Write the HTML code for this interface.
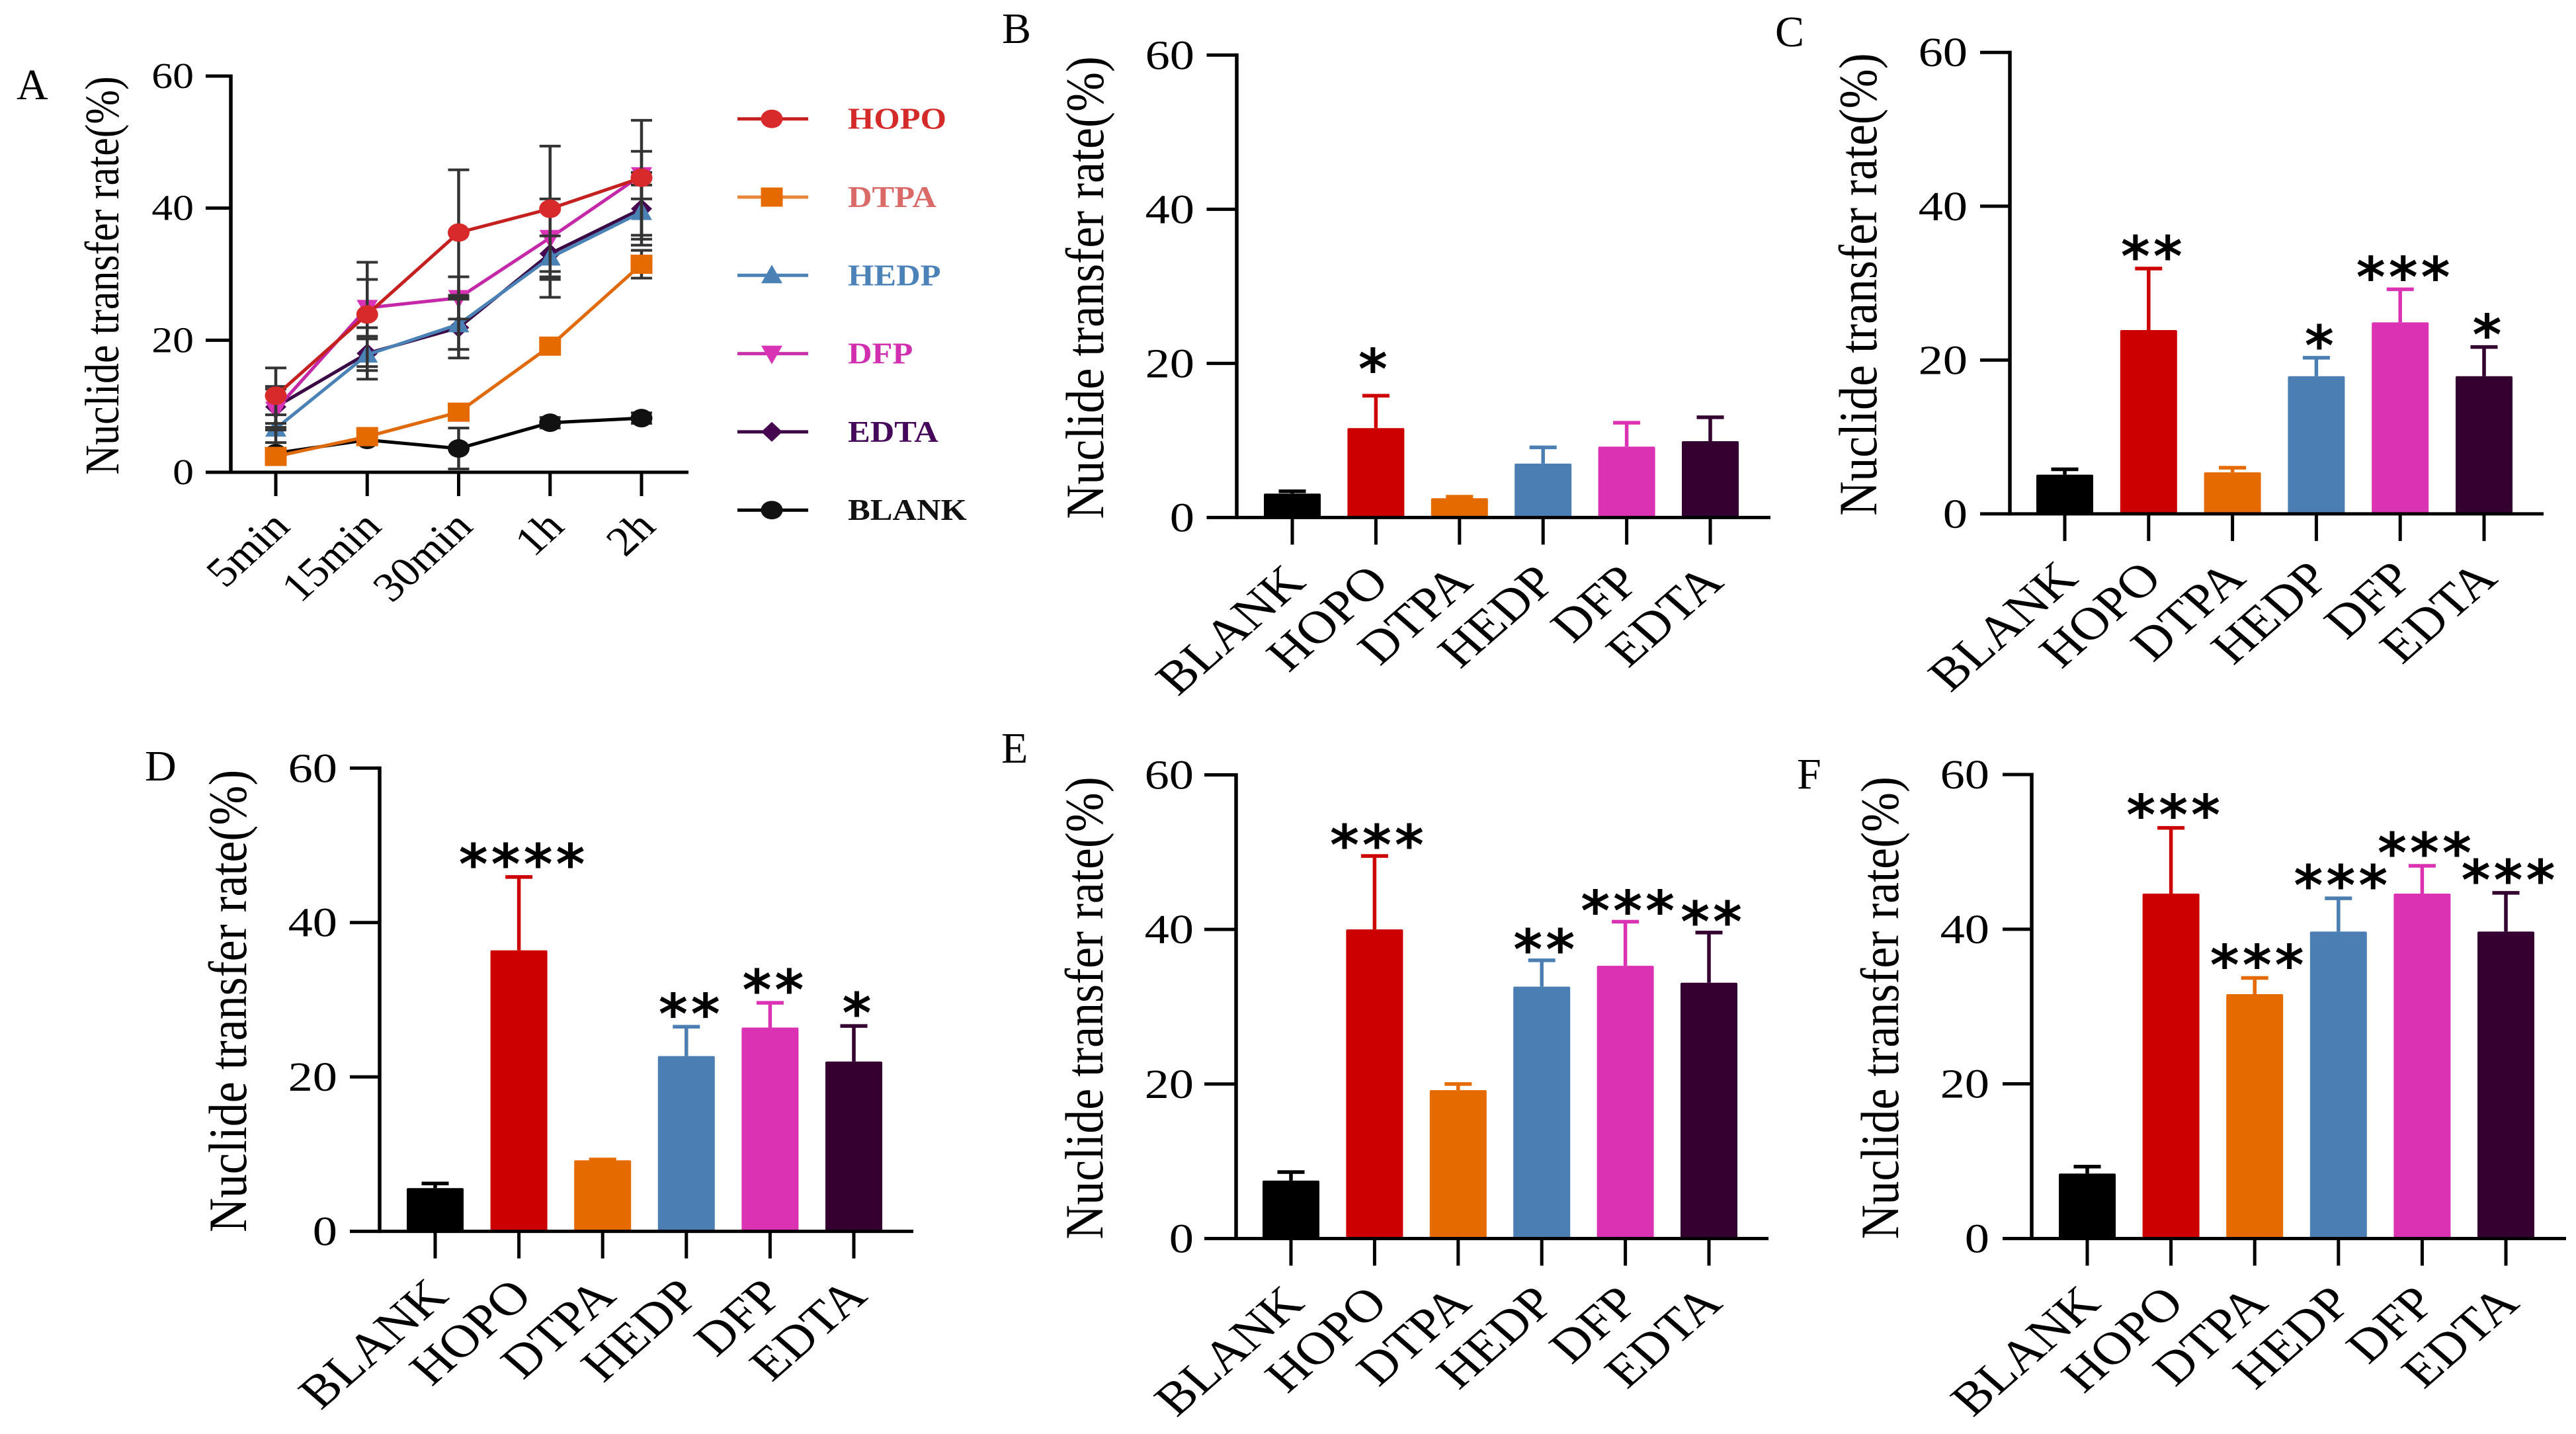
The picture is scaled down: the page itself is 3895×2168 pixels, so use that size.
<!DOCTYPE html>
<html lang="en">
<head>
<meta charset="utf-8">
<title>Nuclide transfer rate panels</title>
<style>
html,body{margin:0;padding:0;background:#fff;width:3895px;height:2168px;overflow:hidden}
svg{display:block}
text{font-family:"Liberation Serif","Times New Roman",serif;fill:#000}
</style>
</head>
<body>
<svg id="figure" xmlns="http://www.w3.org/2000/svg" width="3895" height="2168" viewBox="0 0 3895 2168"></svg>
<script>
// ---------- shared labels ----------
const yTickValues = [0, 20, 40, 60];
const barCategories = ["BLANK", "HOPO", "DTPA", "HEDP", "DFP", "EDTA"];
const timeCategories = ["5min", "15min", "30min", "1h", "2h"];
const yAxisTitle = "Nuclide transfer rate(%)";

// ---------- panel A: line series (mean and symmetric error) ----------
const blankMeans = [2.9, 4.9, 3.6, 7.5, 8.2];
const blankErrors = [0.3, 0.4, 3.1, 0.8, 0.8];
const hopoMeans = [11.6, 23.9, 36.3, 39.9, 44.6];
const hopoErrors = [4.2, 7.9, 9.5, 9.5, 8.7];
const dtpaMeans = [2.4, 5.4, 9.1, 19.1, 31.5];
const dtpaErrors = [0.2, 0.5, 0.1, 0.8, 2.1];
const hedpMeans = [6.6, 17.8, 22.4, 32.5, 39.4];
const hedpErrors = [2.1, 2.4, 3.8, 3.3, 4.1];
const dfpMeans = [9.5, 24.9, 26.4, 35.5, 45.0];
const dfpErrors = [3.1, 4.3, 3.2, 5.9, 3.6];
const edtaMeans = [9.9, 18.0, 21.9, 33.1, 39.9];
const edtaErrors = [3.1, 3.9, 4.6, 6.6, 5.5];

// ---------- panels B-F: bars (value, upper error end, significance) ----------
const panelBValues = [3.1, 11.6, 2.5, 7.0, 9.2, 9.9];
const panelBErrorTops = [3.4, 15.8, 2.7, 9.1, 12.3, 13.0];
const panelBStars = ["", "*", "", "", "", ""];
const panelCValues = [5.1, 23.9, 5.4, 17.9, 24.9, 17.9];
const panelCErrorTops = [5.8, 31.9, 6.0, 20.3, 29.2, 21.7];
const panelCStars = ["", "**", "", "*", "***", "*"];
const panelDValues = [5.6, 36.4, 9.2, 22.7, 26.4, 22.0];
const panelDErrorTops = [6.2, 45.9, 9.3, 26.5, 29.6, 26.6];
const panelDStars = ["", "****", "", "**", "**", "*"];
const panelEValues = [7.5, 40.0, 19.2, 32.6, 35.3, 33.1];
const panelEErrorTops = [8.6, 49.5, 20.0, 36.0, 41.0, 39.6];
const panelEStars = ["", "***", "", "**", "***", "**"];
const panelFValues = [8.4, 44.6, 31.6, 39.7, 44.6, 39.7];
const panelFErrorTops = [9.3, 53.1, 33.7, 44.0, 48.2, 44.7];
const panelFStars = ["", "***", "***", "***", "***", "***"];

const NS = "http://www.w3.org/2000/svg";
const svg = document.getElementById("figure");

function make(tag, attrs, parent) {
  const node = document.createElementNS(NS, tag);
  for (const key in attrs) node.setAttribute(key, attrs[key]);
  (parent || svg).appendChild(node);
  return node;
}

function drawFrame(g, cfg, yScale) {
  const axisY = make("line", {x1: cfg.axisX, x2: cfg.axisX, y1: yScale(60) - 2.5, y2: yScale(0) + 2.5, stroke: "#000", "stroke-width": 5.5}, g);
  
  
  const axisXLine = make("line", {x1: cfg.axisLeft, x2: cfg.axisRight, y1: yScale(0), y2: yScale(0), stroke: "#000", "stroke-width": 5}, g);
  
  

  yTickValues.forEach(function (v) {
    if (v !== 0) {
      const tick = make("line", {x1: cfg.axisLeft, x2: cfg.axisX, y1: yScale(v), y2: yScale(v), stroke: "#000", "stroke-width": 5}, g);
      
      
    }
    const label = make("text", {
      transform: "translate(" + (cfg.axisX - cfg.tickLabelGap) + "," + (yScale(v) + cfg.tickBase) + ") scale(" + cfg.tickScale + ",1)",
      "text-anchor": "end", "font-size": cfg.tickFont
    }, g);
    label.textContent = String(v);
    
    
  });

  const title = make("text", {
    transform: "translate(" + (cfg.axisX - cfg.titleGap) + "," + ((yScale(60) + yScale(0)) / 2 + 2) + ") scale(" + cfg.titleScale + ",1) rotate(-90)",
    "text-anchor": "middle", "font-size": cfg.titleFont
  }, g);
  title.textContent = yAxisTitle;
  
  

  const letter = make("text", {x: cfg.letterX, y: cfg.letterY, "font-size": 66}, g);
  letter.textContent = cfg.letter;
  
  
}

function drawCategoryAxis(g, cfg, yScale, categories, xScale) {
  categories.forEach(function (name, i) {
    const tick = make("line", {x1: xScale(i), x2: xScale(i), y1: yScale(0), y2: yScale(0) + cfg.xTickLen, stroke: "#000", "stroke-width": 5}, g);
    
    
    const label = make("text", {
      transform: "translate(" + (xScale(i) + cfg.labelDx) + "," + (yScale(0) + cfg.labelDy) + ") scale(" + cfg.labelScale + ",1) rotate(-45)",
      "text-anchor": "end", "font-size": cfg.labelFont
    }, g);
    label.textContent = name;
    
    
  });
}

// ---------- bar panels ----------
const barColors = ["#000000", "#cc0000", "#e56a00", "#4b7fb3", "#da32b3", "#330030"];
const barCommon = {tickFont: 62, tickScale: 1.2, tickBase: 21, tickLabelGap: 64, titleFont: 72, titleScale: 1.14, titleGap: 202, xTickLen: 41, labelFont: 70, labelScale: 1.15, labelDx: 23, labelDy: 101};

function drawBarPanel(cfg, values, errorTops, stars) {
  const g = make("g", {});
  
  
  const settings = Object.assign({}, barCommon, cfg);
  const yScale = function (v) { return cfg.y0 + (cfg.y60 - cfg.y0) * v / 60; };
  const xScale = function (i) { return cfg.firstX + cfg.stepX * i; };
  const barWidth = 86;
  const capWidth = 41;

  values.forEach(function (v, i) {
    const color = barColors[i];
    const stem = make("line", {x1: xScale(i), x2: xScale(i), y1: yScale(errorTops[i]), y2: yScale(v), stroke: color, "stroke-width": 5.5}, g);
    
    
    const cap = make("line", {x1: xScale(i) - capWidth / 2, x2: xScale(i) + capWidth / 2, y1: yScale(errorTops[i]), y2: yScale(errorTops[i]), stroke: color, "stroke-width": 5.5}, g);
    
    
    const bar = make("rect", {x: xScale(i) - barWidth / 2, y: yScale(v), width: barWidth, height: yScale(0) - yScale(v), rx: 2, fill: color}, g);
    
    
    if (stars[i]) {
      const star = make("text", {
        x: xScale(i) + cfg.starDx + 2, y: yScale(errorTops[i]) - cfg.starGap + 40,
        "text-anchor": "middle", "font-size": 84, "letter-spacing": 5, "font-weight": "bold",
        style: 'font-family:"DejaVu Sans",sans-serif'
      }, g);
      star.textContent = stars[i];
      
      
    }
  });

  drawFrame(g, settings, yScale);
  drawCategoryAxis(g, settings, yScale, barCategories, xScale);
}

drawBarPanel({letter: "B", letterX: 1515, letterY: 65, axisX: 1870, axisLeft: 1824.5, axisRight: 2677, y60: 83.3, y0: 782.4, firstX: 1954, stepX: 126.4, starDx: -4, starGap: 51}, panelBValues, panelBErrorTops, panelBStars);
drawBarPanel({letter: "C", letterX: 2684, letterY: 70, axisX: 3039, axisLeft: 2994, axisRight: 3846, y60: 79.2, y0: 776.9, firstX: 3122, stepX: 126.8, starDx: 5, starGap: 29}, panelCValues, panelCErrorTops, panelCStars);
drawBarPanel({letter: "D", letterX: 219, letterY: 1180, axisX: 574, axisLeft: 529, axisRight: 1381, y60: 1161.3, y0: 1861.6, firstX: 658, stepX: 126.6, starDx: 5, starGap: 30}, panelDValues, panelDErrorTops, panelDStars);
drawBarPanel({letter: "E", letterX: 1514, letterY: 1153, axisX: 1869, axisLeft: 1821, axisRight: 2674, y60: 1171.5, y0: 1872.5, firstX: 1952, stepX: 126.4, starDx: 4, starGap: 27}, panelEValues, panelEErrorTops, panelEStars);
drawBarPanel({letter: "F", letterX: 2717, letterY: 1192, axisX: 3072, axisLeft: 3028, axisRight: 3880, y60: 1171, y0: 1872.5, firstX: 3156, stepX: 126.6, starDx: 4, starGap: 30}, panelFValues, panelFErrorTops, panelFStars);

// ---------- panel A ----------
const lineCfg = {letter: "A", letterX: 25, letterY: 150, axisX: 349, axisLeft: 311, axisRight: 1041, y60: 115, y0: 714,
  tickFont: 55, tickScale: 1.16, tickBase: 18, tickLabelGap: 56, titleFont: 62, titleScale: 1.18, titleGap: 170, xTickLen: 36, labelFont: 63, labelScale: 1.1, labelDx: 24, labelDy: 85};
const lineX = function (i) { return 417 + 138.25 * i; };
const lineY = function (v) { return lineCfg.y0 + (lineCfg.y60 - lineCfg.y0) * v / 60; };

function drawMarker(parent, shape, cx, cy, color) {
  let node;
  if (shape === "circle") node = make("ellipse", {cx: cx, cy: cy, rx: 16.5, ry: 14, fill: color}, parent);
  if (shape === "square") node = make("rect", {x: cx - 16.5, y: cy - 14.5, width: 33, height: 29, fill: color}, parent);
  if (shape === "up") node = make("polygon", {points: (cx - 16) + "," + (cy + 12) + " " + (cx + 16) + "," + (cy + 12) + " " + cx + "," + (cy - 16), fill: color}, parent);
  if (shape === "down") node = make("polygon", {points: (cx - 16) + "," + (cy - 12) + " " + (cx + 16) + "," + (cy - 12) + " " + cx + "," + (cy + 16), fill: color}, parent);
  if (shape === "diamond") node = make("polygon", {points: (cx - 16) + "," + cy + " " + cx + "," + (cy - 15) + " " + (cx + 16) + "," + cy + " " + cx + "," + (cy + 15), fill: color}, parent);
  
  
}

function drawSeries(parent, name, means, shape, lineColor, markerColor) {
  const g = make("g", {}, parent);
  
  
  const points = means.map(function (v, i) { return lineX(i) + "," + lineY(v); }).join(" ");
  const line = make("polyline", {points: points, fill: "none", stroke: lineColor, "stroke-width": 5}, g);
  
  
  means.forEach(function (v, i) { drawMarker(g, shape, lineX(i), lineY(v), markerColor); });
}

function drawErrors(parent, name, means, errors) {
  const g = make("g", {}, parent);
  
  
  means.forEach(function (v, i) {
    const x = lineX(i);
    const hi = lineY(v + errors[i]);
    const lo = lineY(v - errors[i]);
    const stem = make("line", {x1: x, x2: x, y1: hi, y2: lo, stroke: "#333", "stroke-width": 4.5}, g);
    
    
    const capHi = make("line", {x1: x - 16, x2: x + 16, y1: hi, y2: hi, stroke: "#333", "stroke-width": 4}, g);
    
    
    const capLo = make("line", {x1: x - 16, x2: x + 16, y1: lo, y2: lo, stroke: "#333", "stroke-width": 4}, g);
    
    
  });
}

const panelA = make("g", {});


drawErrors(panelA, "blank", blankMeans, blankErrors);
drawSeries(panelA, "blank", blankMeans, "circle", "#000", "#111");
drawSeries(panelA, "edta", edtaMeans, "diamond", "#3a0845", "#45064f");
drawSeries(panelA, "dfp", dfpMeans, "down", "#c427a8", "#d833b4");
drawSeries(panelA, "hedp", hedpMeans, "up", "#4b82b6", "#4b82b6");
drawErrors(panelA, "edta", edtaMeans, edtaErrors);
drawErrors(panelA, "dfp", dfpMeans, dfpErrors);
drawErrors(panelA, "hedp", hedpMeans, hedpErrors);
drawErrors(panelA, "dtpa", dtpaMeans, dtpaErrors);
drawErrors(panelA, "hopo", hopoMeans, hopoErrors);
drawSeries(panelA, "dtpa", dtpaMeans, "square", "#e06a0a", "#e56a00");
drawSeries(panelA, "hopo", hopoMeans, "circle", "#c4201f", "#d82a2a");
drawFrame(panelA, lineCfg, lineY);
drawCategoryAxis(panelA, lineCfg, lineY, timeCategories, lineX);

// ---------- legend ----------
const legendNames = ["HOPO", "DTPA", "HEDP", "DFP", "EDTA", "BLANK"];
const legendShapes = ["circle", "square", "up", "down", "diamond", "circle"];
const legendMarkerColors = ["#d82a2a", "#e56a00", "#4b82b6", "#d833b4", "#45064f", "#111"];
const legendLineColors = ["#c4201f", "#e8873a", "#4b82b6", "#c932ac", "#3a0845", "#000"];
const legendTextColors = ["#d42a2a", "#d96a68", "#4b82b8", "#d030b0", "#46085a", "#111"];
const legendG = make("g", {});


legendNames.forEach(function (name, i) {
  const rowY = 179.7 + 118.3 * i;
  const entry = make("g", {}, legendG);
  
  
  const sample = make("line", {x1: 1115, x2: 1222, y1: rowY, y2: rowY, stroke: legendLineColors[i], "stroke-width": 5}, entry);
  
  
  drawMarker(entry, legendShapes[i], 1167, rowY, legendMarkerColors[i]);
  const label = make("text", {
    transform: "translate(1282," + (rowY + 15) + ") scale(1.1,1)",
    "font-size": 46, "font-weight": "bold", style: "fill:" + legendTextColors[i]
  }, entry);
  label.textContent = name;
  
  
});
</script>
</body>
</html>
